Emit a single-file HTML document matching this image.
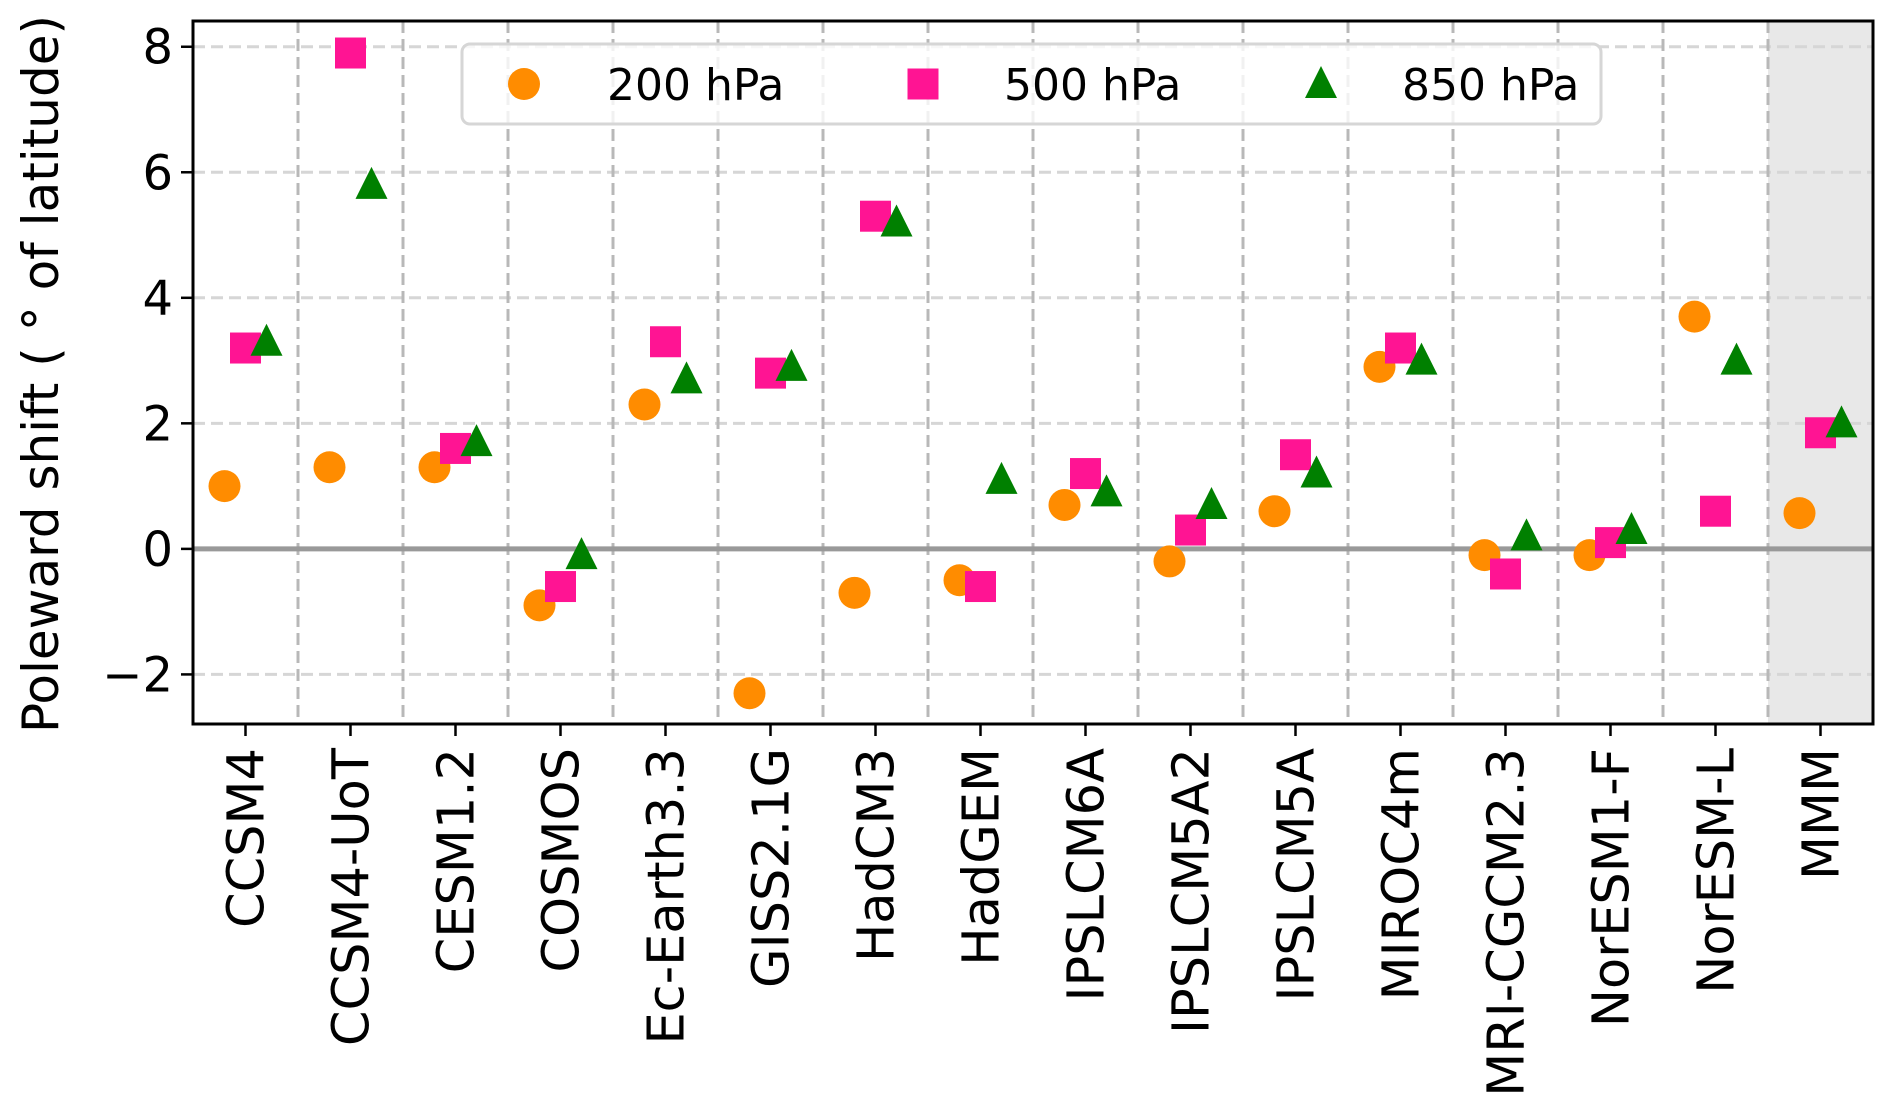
<!DOCTYPE html>
<html><head><meta charset="utf-8"><style>
html,body{margin:0;padding:0;background:#fff;}
svg{display:block;font-family:"DejaVu Sans","Liberation Sans",sans-serif;}
</style></head><body>
<svg id="chart" width="1892" height="1110" xmlns="http://www.w3.org/2000/svg"></svg>
<script>
const categories = ["CCSM4","CCSM4-UoT","CESM1.2","COSMOS","Ec-Earth3.3","GISS2.1G","HadCM3","HadGEM","IPSLCM6A","IPSLCM5A2","IPSLCM5A","MIROC4m","MRI-CGCM2.3","NorESM1-F","NorESM-L","MMM"];
const v200 = [1.0,1.3,1.3,-0.9,2.3,-2.3,-0.7,-0.5,0.7,-0.2,0.6,2.9,-0.1,-0.1,3.7,0.57];
const v500 = [3.2,7.9,1.6,-0.6,3.3,2.8,5.3,-0.6,1.2,0.3,1.5,3.2,-0.4,0.1,0.6,1.85];
const v850 = [3.3,5.8,1.7,-0.1,2.7,2.9,5.2,1.1,0.9,0.7,1.2,3.0,0.2,0.3,3.0,2.0];
const yTicks = [-2,0,2,4,6,8];
const yTickLabels = ["\u22122","0","2","4","6","8"];

const NS="http://www.w3.org/2000/svg";
const svg=document.getElementById('chart');
const L=193,R=1873,T=21,B=724,yMin=-2.79,yMax=8.41;
const n=categories.length;
function xs(i){return L+(R-L)*(i+0.5)/n;}
function ys(v){return B-(v-yMin)/(yMax-yMin)*(B-T);}
function mk(tag,attrs,parent){const e=document.createElementNS(NS,tag);for(const k in attrs)e.setAttribute(k,attrs[k]);(parent||svg).appendChild(e);return e;}

let sh=mk('rect',{x:xs(n-1)-(R-L)/n/2,y:T,width:(R-L)/n,height:B-T,fill:'#e8e8e8'});


yTicks.forEach(t=>{
 const g=mk('line',{x1:L,x2:R,y1:ys(t),y2:ys(t),stroke:'#d6d6d6','stroke-width':3,'stroke-dasharray':'12 6'});
 
 
});
for(let i=0;i<n-1;i++){
 const x=(xs(i)+xs(i+1))/2;
 const g=mk('line',{x1:x,x2:x,y1:T,y2:B,stroke:'#b8b8b8','stroke-width':3,'stroke-dasharray':'12 6'});
 
 
}
let z=mk('line',{x1:L,x2:R,y1:ys(0),y2:ys(0),stroke:'#999','stroke-width':5});



function circle(x,y,p){return mk('ellipse',{cx:x,cy:y,rx:16,ry:16,fill:'#ff8c00'},p);}
function square(x,y,p){return mk('rect',{x:x-15.5,y:y-15.5,width:31,height:31,fill:'#ff1493'},p);}
function tri(x,y,p){return mk('polygon',{points:`${x},${y-18} ${x+16},${y+14} ${x-16},${y+14}`,fill:'#008000'},p);}
const off=(R-L)/n*0.2;
categories.forEach((c,i)=>{
 let a=circle(xs(i)-off,ys(v200[i]));
 
 
 let b=square(xs(i),ys(v500[i]));
 
 
 let d=tri(xs(i)+off,ys(v850[i]));
 
 
});

const lg=mk('g',{});


mk('rect',{x:462,y:44,width:1139,height:80,rx:8,fill:'rgba(255,255,255,0.8)',stroke:'#d6d6d6','stroke-width':3},lg);
const legItems=[["200 hPa",circle,524,607],["500 hPa",square,923,1004],["850 hPa",tri,1321,1402]];
legItems.forEach(([lab,f,mx,tx])=>{
 const m=f(mx,84,lg);
 
 
 const t=mk('text',{x:tx,y:100,'font-size':44,fill:'#000'},lg);t.textContent=lab;
 
 
});

let fr=mk('rect',{x:L,y:T,width:R-L,height:B-T,fill:'none',stroke:'#000','stroke-width':3});



yTicks.forEach((t,k)=>{
 mk('line',{x1:L-12,x2:L,y1:ys(t),y2:ys(t),stroke:'#000','stroke-width':2.5});
 const tx=mk('text',{x:L-20,y:ys(t)+17,'font-size':48,'text-anchor':'end',fill:'#000'});
 tx.textContent=yTickLabels[k];
 
 
});
categories.forEach((c,i)=>{
 mk('line',{x1:xs(i),x2:xs(i),y1:B,y2:B+12,stroke:'#000','stroke-width':2.5});
 const tx=mk('text',{x:0,y:0,'font-size':51,'text-anchor':'end',fill:'#000',transform:`translate(${xs(i)+18},${B+24}) rotate(-90)`});
 tx.textContent=c;
 
 
});
const yt=mk('text',{x:0,y:0,'font-size':50,'text-anchor':'middle',fill:'#000',transform:`translate(58,374) rotate(-90)`});
yt.setAttribute('xml:space','preserve');
yt.textContent="Poleward shift ( \u00B0  of latitude)";


</script>
</body></html>
